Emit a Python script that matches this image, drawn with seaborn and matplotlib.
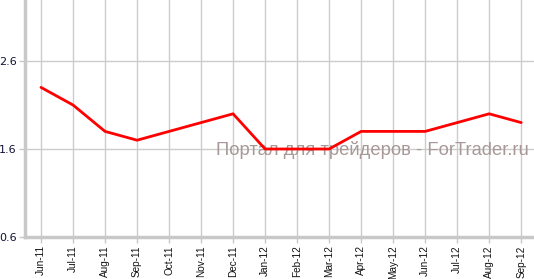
import matplotlib
matplotlib.use("Agg")
import matplotlib.pyplot as plt
import seaborn as sns
import pandas as pd

months = ["Jun-11", "Jul-11", "Aug-11", "Sep-11", "Oct-11", "Nov-11", "Dec-11",
          "Jan-12", "Feb-12", "Mar-12", "Apr-12", "May-12", "Jun-12", "Jul-12",
          "Aug-12", "Sep-12"]
values = [2.3, 2.1, 1.8, 1.7, 1.8, 1.9, 2.0, 1.6, 1.6, 1.6, 1.8, 1.8, 1.8, 1.9, 2.0, 1.9]
yticks = [0.6, 1.6, 2.6]
watermark = "Портал для трейдеров - ForTrader.ru"

df = pd.DataFrame({"month": months, "value": values, "idx": range(len(months))})

sns.set_style("white")
plt.rcParams["font.family"] = ["DejaVu Sans"]

fig = plt.figure(figsize=(5.34, 2.79), dpi=100)
ax = fig.add_axes([25 / 534, (279 - 237) / 279, 1 - 25 / 534, 237 / 279])

sns.lineplot(data=df, x="idx", y="value", ax=ax, color="#ff0000", linewidth=2, zorder=3)

ax.set_xlim(-0.5, 15.4)
ax.set_ylim(0.6, 0.6 + 237 / 88)
ax.set_xticks(range(len(months)))
ax.set_xticklabels(months, rotation=90, fontsize=7.2, color="#111111",
                   family=["Liberation Sans", "DejaVu Sans"])
ax.set_yticks(yticks)
ax.set_yticklabels([f"{v:.1f}" for v in yticks], fontsize=8, color="#111133")
ax.set_xlabel("")
ax.set_ylabel("")
ax.grid(True, color="#cccccc", linewidth=1)
ax.set_axisbelow(True)
for s in ["top", "right"]:
    ax.spines[s].set_visible(False)
for s in ["left", "bottom"]:
    ax.spines[s].set_color("#c8c8c8")
    ax.spines[s].set_linewidth(2.5)
ax.tick_params(axis="both", length=4, width=1, color="#c8c8c8", pad=2, direction="out")
ax.tick_params(axis="x", bottom=True)
ax.tick_params(axis="y", left=True)

ax.text(372 / 534, 1 - 150 / 279, watermark, ha="center", va="center",
        transform=fig.transFigure, fontsize=13.2, color="#a89898",
        family=["Liberation Sans", "DejaVu Sans"], zorder=2)

fig.savefig("out.png", dpi=100)
